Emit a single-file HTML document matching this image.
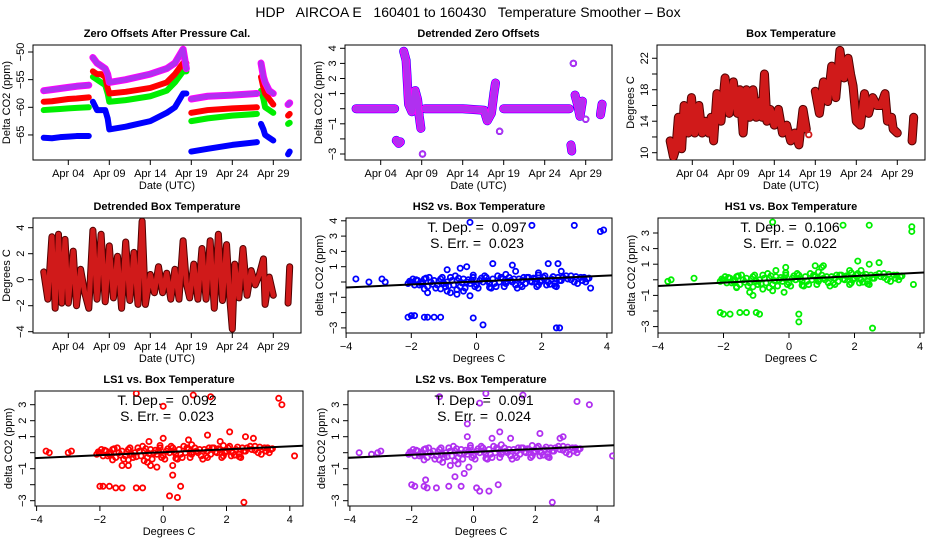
<!DOCTYPE html>
<html><head><meta charset="utf-8"><style>
html,body{margin:0;padding:0;background:#fff}
svg{display:block;font-family:"Liberation Sans",sans-serif}
</style></head><body>
<svg id="c" width="936" height="540" viewBox="0 0 936 540" xmlns="http://www.w3.org/2000/svg">
<text x="468" y="17" font-size="14" text-anchor="middle" style="white-space:pre">HDP   AIRCOA E   160401 to 160430   Temperature Smoother – Box</text>
</svg>
<script>
const zeroDays=[1,2,3,4,5,6.5,null,7,7.5,8,8.5,8.8,9,11,14,16,17,18,18.4,null,19,21,24,27,null,27.5,27.8,28,28.5,29,null,30.8,31];
const zeroLS2=[-57,-56.8,-56.6,-56.4,-56.2,-56,null,-51,-52,-52.5,-53,-54,-55.5,-55,-54,-53,-52,-49.5,-53,null,-58.5,-58,-57.8,-57.5,null,-52,-54.5,-55.5,-57,-57.5,null,-59.5,-59.2];
const zeroLS1=[-59,-58.9,-58.7,-58.5,-58.4,-58.2,null,-53.5,-54,-54,-54.5,-56.5,-57.5,-57.2,-56.5,-55.5,-54,-52,-52,null,-61,-60.5,-60.2,-60,null,-54.5,-56.5,-57.5,-58.5,-59.5,null,-61.5,-61.2];
const zeroHS1=[-60.5,-60.4,-60.3,-60.2,-60.1,-60,null,-54.5,-55,-55.5,-56,-57.5,-59,-58.7,-58,-57,-55.5,-53.5,-53.5,null,-62.5,-62,-61.5,-61.2,null,-57,-58.5,-60,-60.5,-61,null,-63,-62.8];
const zeroHS2=[-65.5,-65.6,-65.4,-65.3,-65.2,-65.2,null,-59,-60.5,-60.5,-60.5,-62,-64,-63.5,-62.5,-61,-60,-57.5,-57.5,null,-68,-67.5,-66.8,-66.3,null,-63,-64,-65,-65.5,-66,null,-68.5,-68];
const detDays=[1,3,5.7,null,5.9,6.2,6.4,null,6.8,7.1,7.4,7.8,8.2,8.5,8.7,8.9,null,9.1,null,9.4,12,14,16.6,17,17.5,17.8,18,null,18.5,null,19,22,25,27,null,27.2,27.3,null,27.5,null,27.7,28,28.3,28.6,null,29,null,30.8,31];
const detVals=[0,0,0,null,-2.1,-2.3,-2.2,null,3.8,3.2,0.3,-0.2,1.2,0.6,-0.5,-1.3,null,-3,null,0,0,0,-0.1,-0.8,-0.3,1,1.7,null,-1.5,null,0,0,0,0,null,-2.4,-2.8,null,3,null,0.9,0.3,-0.5,0.5,null,-0.7,null,-0.4,0.3];
const boxDays=[1.3,1.7,2,2.3,2.7,3,3.5,3.9,4.3,4.8,5.2,5.6,6,6.3,6.6,7,7.5,8,8.5,9,9.5,9.8,10.2,10.6,11,11.4,11.8,12.2,12.5,12.8,13.1,13.5,14,14.5,15,15.5,16,16.5,17,17.5,17.9,null,18.2,null,19,19.5,20,20.5,21,21.5,22,22.5,23,23.3,23.6,24,24.5,25,25.5,26,26.5,27,27.5,27.8,28.3,28.5,29,null,30.8,31];
const boxVals=[11.5,9.5,10.5,14.5,10.5,16,12.5,17,12.5,16,12.5,14,12.5,14.5,11.5,17.5,14,19.5,15,19,15,18,12.5,18,14.5,18,14.5,16.5,14.5,20,14,15.5,13.5,15.5,12.5,13.5,11.5,12.5,11,15.5,13,null,12.3,null,17.8,15,19,16.5,21,17,23,19.5,22,20,18.5,14,13.5,17.5,15,17,16,16,17.5,14,14.5,13,12.5,null,11.5,14.5];
const dtDays=[1,1.5,2,2.4,2.8,3.2,3.6,4,4.6,5,5.5,6,6.5,7,7.5,8,8.5,9,9.5,10,10.5,11,11.5,12,12.5,13,13.4,14,14.5,15,15.5,16,16.5,17,17.5,18,18.4,18.8,19.3,19.8,20.3,20.8,21.3,21.8,22.3,22.8,23.3,23.7,24,24.3,24.8,25.3,25.8,26.3,26.8,27.3,27.8,28,28.5,29,null,30.8,31];
const dtVals=[0.6,-1.5,3.3,-2.2,3.5,-1.8,3.1,-1.8,2.2,-2,0.8,-1,-2.2,3.8,-1.5,3.5,-1.7,2.6,-1.4,1.8,-2.2,2.9,-1.6,2.1,-1.9,4.5,-1.9,0.4,-1,1,-1,0.5,-1.5,0.8,-1.5,3,-0.3,-1.4,1.2,-1.5,2.4,-1.5,3,-2.2,3.5,-1.6,2.7,-1.5,-3.8,1.2,-1.4,2.4,-1.2,0.7,-0.4,0.4,1.6,-1.9,0.2,-1.2,null,-1.8,1];
const clusterX=[-2.1,-2,-1.9,-1.8,-1.7,-1.6,-1.5,-1.4,-1.3,-1.2,-1.1,-1,-0.9,-0.8,-0.7,-0.6,-0.5,-0.4,-0.3,-0.2,-0.1,0,0.1,0.2,0.3,0.4,0.5,0.6,0.7,0.8,0.9,1,1.1,1.2,1.3,1.4,1.5,1.6,1.7,1.8,1.9,2,2.1,2.2,2.3,2.4,2.5,2.6,2.8,3,3.2,3.4,-1.95,-1.75,-1.45,-1.25,-0.95,-0.65,-0.35,-0.15,0.05,0.25,0.45,0.65,0.85,1.05,1.25,1.55,1.85,2.15,2.45,2.75,3.1,3.3];
const clusterY=[-0.1,0,-0.2,0.1,-0.1,0.2,-0.3,0,0.1,-0.2,0.2,-0.1,0,0.3,-0.2,0.1,-0.3,0.2,0,-0.1,0.3,-0.2,0.1,0,0.3,-0.1,0.2,-0.3,0,0.2,-0.1,0.3,0,-0.2,0.2,0.1,-0.1,0.3,0,0.2,-0.2,0.1,0.4,0,0.2,-0.1,0.3,0.1,0.2,0,0.3,0.2,0.2,-0.2,0.3,-0.4,-0.3,0.4,-0.4,0.1,-0.4,0.4,-0.4,0.4,-0.3,0.1,-0.4,0.3,-0.3,-0.2,-0.3,0.4,-0.1,0.3];
const cluster2X=[-2.05,-1.85,-1.65,-1.55,-1.35,-1.15,-1.05,-0.85,-0.75,-0.55,-0.45,-0.25,-0.05,0.15,0.35,0.55,0.75,0.95,1.15,1.35,1.45,1.65,1.75,1.95,2.05,2.25,2.35,2.55,2.65,2.9,3.05,3.25,3.45,-1.6,-1.1,-0.6,-0.1,0.4,0.9,1.4,1.9,2.4,2.9,3.35];
const cluster2Y=[0.05,0.15,-0.05,0.25,-0.15,0.05,0.3,-0.25,0.1,0.25,-0.05,0.15,-0.3,0.25,0.05,-0.1,0.3,0.05,0.2,-0.2,0.3,0.05,0.25,0,0.3,-0.15,0.35,0.1,0.3,0.15,0.35,0.1,0.25,-0.45,-0.45,-0.5,0.45,-0.35,0.5,-0.3,0.45,-0.25,0.4,0];
const hs2X=[-3.7,-3.3,-2.9,-2.8,-2.1,-2,-1.9,-1.6,-1.5,-1.3,-1.1,-0.1,0.2,2.45,2.55,-0.2,1.7,3,3.8,3.9,-0.5,-0.9,-0.3,0.5,1.1,2.2,2.5,1.9,2.6,-0.2,-0.6,-0.9,-1.5,-0.8,-0.4,3.5,1.2];
const hs2Y=[0.2,0,0.2,0,-2.3,-2.2,-2.2,-2.3,-2.3,-2.3,-2.3,-2.35,-2.8,-3,-3,3.9,3.7,3.7,3.3,3.4,0.9,0.8,1,1.2,1.1,1.2,1.2,0.6,0.7,-0.9,-0.8,-0.6,-0.7,-0.7,-0.6,-0.4,0.7];
const hs1X=[-3.7,-3.6,-2.9,-2.1,-2,-1.8,-1.5,-1.3,-1,-0.9,0.3,0.3,2.55,-0.5,1.65,2.45,3.75,3.75,-0.4,-0.1,0.8,1.05,1.85,2.1,2.2,2.45,2.75,-0.15,-0.5,-0.8,-1.1,-1.6,-1.2,3.8,1];
const hs1Y=[-0.1,0,0.1,-2.1,-2.2,-2.2,-2.1,-2.1,-2.1,-2.2,-2.2,-2.7,-3.1,3.7,3.5,3.5,3.4,3.1,0.6,0.8,0.9,0.9,0.6,1.2,0.6,1,1.1,-0.8,-0.7,-0.6,-1,-0.5,-0.8,-0.3,0.8];
const ls1X=[-3.7,-3.6,-3,-2.9,-2,-1.9,-1.7,-1.5,-1.3,-0.85,-0.65,0.2,0.3,0.45,0.55,2.55,-0.85,1.5,3.65,3.75,0,0.95,-0.45,0,1.4,1.8,2.1,2.6,2.85,0.8,0.3,-0.4,-0.2,-1.3,-1.1,4.15,-0.5];
const ls1Y=[0.1,0,0,0.1,-2.1,-2.1,-2.1,-2.2,-2.2,-2.2,-2.2,-2.7,-1.4,-2.8,-2.1,-3.1,3.7,3.5,3.4,3,2.9,3.6,0.7,0.9,1.1,0.7,1.3,1,0.9,0.8,-0.8,-0.8,-0.9,-0.8,-0.8,-0.2,-0.6];
const ls2X=[-3.7,-3.3,-3.1,-3,-2,-1.9,-1.6,-1.5,-1.2,-1.55,-0.8,-0.4,0.1,0.2,0.5,0.8,2.55,-1.1,0.2,0.4,1.6,3.35,3.75,-0.2,-0.2,0.85,2.15,2.8,2.9,1.2,0.6,-1,-0.75,-0.5,-0.6,-0.3,-0.15,4.5];
const ls2Y=[0,-0.1,0,0.1,-2,-2.1,-2.1,-2.2,-2.2,-1.7,-2.1,-2.1,-2.2,-2.4,-2.4,-2,-3.1,3.5,3.1,3.7,3.6,3.2,3,1.8,1,1.3,1.2,0.9,1,0.9,0.9,-0.6,-0.8,-0.7,-1.5,-1.3,-0.9,-0.2];
const tickDays=[4,9,14,19,24,29];
const tickDayLabels=["Apr 04","Apr 09","Apr 14","Apr 19","Apr 24","Apr 29"];
const sxTicks=[-4,-2,0,2,4];

const svg=document.getElementById('c');
const NS='http://www.w3.org/2000/svg';
function mk(tag,at,parent){const e=document.createElementNS(NS,tag);for(const k in at)e.setAttribute(k,at[k]);(parent||svg).appendChild(e);return e;}
function txt(s,x,y,size,opt,parent){const t=mk('text',Object.assign({x:x,y:y,'font-size':size,'text-anchor':'middle'},opt||{}),parent);t.textContent=s;return t;}

function panel(p){
  const g=mk('g',{});
  
  
  const xs=v=>p.x0+(v-p.xv0)*p.xk, ys=v=>p.y0-(v-p.yv0)*p.yk;
  const box=mk('rect',{x:p.bx,y:p.by,width:p.bw,height:p.bh,fill:'none',stroke:'#000','stroke-width':1},g);
  
  
  const tt=txt(p.title,p.bx+p.bw/2,p.by-8,11,{'font-weight':'bold'},g);
  
  
  const xa=mk('g',{},g);
  
  
  const yb=p.by+p.bh;
  mk('line',{x1:xs(p.xt[0]),x2:xs(p.xt[p.xt.length-1]),y1:yb,y2:yb,stroke:'#000'},xa);
  p.xt.forEach((v,i)=>{mk('line',{x1:xs(v),x2:xs(v),y1:yb,y2:yb+5,stroke:'#000'},xa);
    const l=txt(p.xl[i],xs(v),yb+17,11,{},xa);
    
    });
  const xtl=txt(p.xtitle,p.bx+p.bw/2,yb+29,11,{},xa);
  
  
  const ya=mk('g',{},g);
  
  
  mk('line',{x1:p.bx,x2:p.bx,y1:ys(p.yt[0]),y2:ys(p.yt[p.yt.length-1]),stroke:'#000'},ya);
  p.yt.forEach(v=>{mk('line',{x1:p.bx-5,x2:p.bx,y1:ys(v),y2:ys(v),stroke:'#000'},ya);});
  p.yl.forEach(v=>{const lx=p.bx-9,ly=ys(v);
    const l=txt(String(v).replace('-','−'),lx,ly,11,{transform:`rotate(-90 ${lx} ${ly})`},ya);
    
    });
  const yx=p.bx-23, yy=p.by+p.bh/2;
  const ytl=txt(p.ytitle,yx,yy,11,{transform:`rotate(-90 ${yx} ${yy})`},ya);
  
  
  const clip='cl'+p.name;
  const cp=mk('clipPath',{id:clip},g);mk('rect',{x:p.bx,y:p.by,width:p.bw,height:p.bh},cp);
  const d=mk('g',{'clip-path':`url(#${clip})`},g);
  return {g:d,xs:xs,ys:ys};
}
function series(P,days,vals,color,w,name,outline){
  const sg=mk('g',{},P.g);
  
  
  let segs=[],cur=[];
  days.forEach((d,i)=>{if(d===null||vals[i]===null){if(cur.length)segs.push(cur);cur=[];}else cur.push([P.xs(d),P.ys(vals[i])]);});
  if(cur.length)segs.push(cur);
  segs.forEach(s=>{const pts=s.map(q=>q.join(',')).join(' ');
    if(s.length===1){mk('circle',{cx:s[0][0],cy:s[0][1],r:2.8,fill:'none',stroke:color,'stroke-width':1.8},sg);return;}
    if(outline) mk('polyline',{points:pts,fill:'none',stroke:outline,'stroke-width':w+2,'stroke-linejoin':'round','stroke-linecap':'round'},sg);
    mk('polyline',{points:pts,fill:'none',stroke:color,'stroke-width':w,'stroke-linejoin':'round','stroke-linecap':'round'},sg);});
}
function scatter(P,X,Y,color,name){
  const sg=mk('g',{},P.g);
  
  
  X.forEach((x,i)=>{const c=mk('circle',{cx:P.xs(x),cy:P.ys(Y[i]),r:2.6,fill:'none',stroke:color,'stroke-width':1.8},sg);
    
    });
}
function fit(P,a,b,x0,x1,name){
  const l=mk('line',{x1:P.xs(x0),y1:P.ys(a+b*x0),x2:P.xs(x1),y2:P.ys(a+b*x1),stroke:'#000','stroke-width':2},P.g);
  
  
}
function stats(cx,y,dep,err){
  const t1=txt('T. Dep. =  '+dep,cx,y,14,{style:'white-space:pre'},svg);
  
  
  const t2=txt('S. Err. =  '+err,cx,y+16,14,{style:'white-space:pre'},svg);
  
  
}
const dcol={LS2:'#b030f0',LS1:'#ff0000',HS1:'#00ee00',HS2:'#0000ff'};
const timeBase={xv0:4,xk:8.2,xt:tickDays,xl:tickDayLabels,xtitle:'Date (UTC)',by:45,bh:115};
let P=panel(Object.assign({},timeBase,{name:'zero-offsets-panel',title:'Zero Offsets After Pressure Cal.',bx:33,bw:268,x0:68.3,y0:52,yv0:-50,yk:5.53,yt:[-50,-55,-60,-65],yl:[-50,-55,-60,-65],ytitle:'Delta CO2  (ppm)'}));
series(P,zeroDays,zeroHS2,dcol.HS2,6,'series-hs2');
series(P,zeroDays,zeroHS1,dcol.HS1,6,'series-hs1');
series(P,zeroDays,zeroLS1,dcol.LS1,6,'series-ls1');
series(P,zeroDays,zeroLS2,dcol.LS2,5,'series-ls2','#ff00ff');
P=panel(Object.assign({},timeBase,{name:'detrended-zero-panel',title:'Detrended Zero Offsets',bx:345,bw:267,x0:380.7,y0:108.7,yv0:0,yk:15.1,yt:[4,3,2,1,0,-1,-2,-3],yl:[4,3,2,1,-1,-3],ytitle:'Delta CO2  (ppm)'}));
series(P,detDays,detVals,dcol.HS2,9,'series-detrended-hs2');
series(P,detDays,detVals,dcol.LS2,6,'series-detrended-ls2','#ff00ff');
P=panel(Object.assign({},timeBase,{name:'box-temperature-panel',title:'Box Temperature',bx:657,bw:268,x0:692.3,y0:152.7,yv0:10,yk:7.87,yt:[10,12,14,16,18,20,22],yl:[10,14,18,22],ytitle:'Degrees C'}));
series(P,boxDays,boxVals,'#d01a1a',7,'series-box-temperature','#500000');
P=panel(Object.assign({},timeBase,{name:'detrended-box-temperature-panel',title:'Detrended Box Temperature',bx:33,by:218,bw:268,x0:68.3,y0:279.7,yv0:0,yk:13,yt:[4,2,0,-2,-4],yl:[4,2,0,-2,-4],ytitle:'Degrees C'}));
series(P,dtDays,dtVals,'#d01a1a',5,'series-detrended-temperature','#500000');
const sbase={xv0:0,yv0:0,xt:sxTicks,xl:['−4','−2','0','2','4'],xtitle:'Degrees C',ytitle:'delta CO2 (ppm)',bh:115};
P=panel(Object.assign({},sbase,{name:'hs2-scatter-panel',title:'HS2 vs. Box Temperature',bx:346,by:218,bw:266,x0:476.5,xk:32.6,y0:282,yk:15.3,yt:[4,3,2,1,0,-1,-2,-3],yl:[4,3,2,1,-1,-3]}));
scatter(P,clusterX,clusterY,dcol.HS2,'hs2-points');scatter(P,cluster2X,cluster2Y,dcol.HS2,'hs2-points-2');scatter(P,hs2X,hs2Y,dcol.HS2,'hs2-outliers');
fit(P,0.03,0.097,-5,5,'hs2-fit-line');stats(477,232,'0.097','0.023');
P=panel(Object.assign({},sbase,{name:'hs1-scatter-panel',title:'HS1 vs. Box Temperature',bx:658,by:218,bw:266,x0:789,xk:32.75,y0:279.8,yk:15.6,yt:[3,2,1,0,-1,-2,-3],yl:[3,2,1,-1,-3]}));
scatter(P,clusterX,clusterY,dcol.HS1,'hs1-points');scatter(P,cluster2X,cluster2Y,dcol.HS1,'hs1-points-2');scatter(P,hs1X,hs1Y,dcol.HS1,'hs1-outliers');
fit(P,0.03,0.106,-5,5,'hs1-fit-line');stats(790,232,'0.106','0.022');
P=panel(Object.assign({},sbase,{name:'ls1-scatter-panel',title:'LS1 vs. Box Temperature',bx:35,by:391,bw:268,x0:163.2,xk:31.65,y0:452.7,yk:16,yt:[3,2,1,0,-1,-2,-3],yl:[3,2,1,-1,-3]}));
scatter(P,clusterX,clusterY,dcol.LS1,'ls1-points');scatter(P,cluster2X,cluster2Y,dcol.LS1,'ls1-points-2');scatter(P,ls1X,ls1Y,dcol.LS1,'ls1-outliers');
fit(P,0.03,0.092,-5,5,'ls1-fit-line');stats(167,405,'0.092','0.023');
P=panel(Object.assign({},sbase,{name:'ls2-scatter-panel',title:'LS2 vs. Box Temperature',bx:348,by:391,bw:266,x0:473.5,xk:30.9,y0:452.7,yk:16,yt:[3,2,1,0,-1,-2,-3],yl:[3,2,1,-1,-3]}));
scatter(P,clusterX,clusterY,dcol.LS2,'ls2-points');scatter(P,cluster2X,cluster2Y,dcol.LS2,'ls2-points-2');scatter(P,ls2X,ls2Y,dcol.LS2,'ls2-outliers');
fit(P,0.05,0.091,-5,5,'ls2-fit-line');stats(484,405,'0.091','0.024');
</script>
</body></html>
